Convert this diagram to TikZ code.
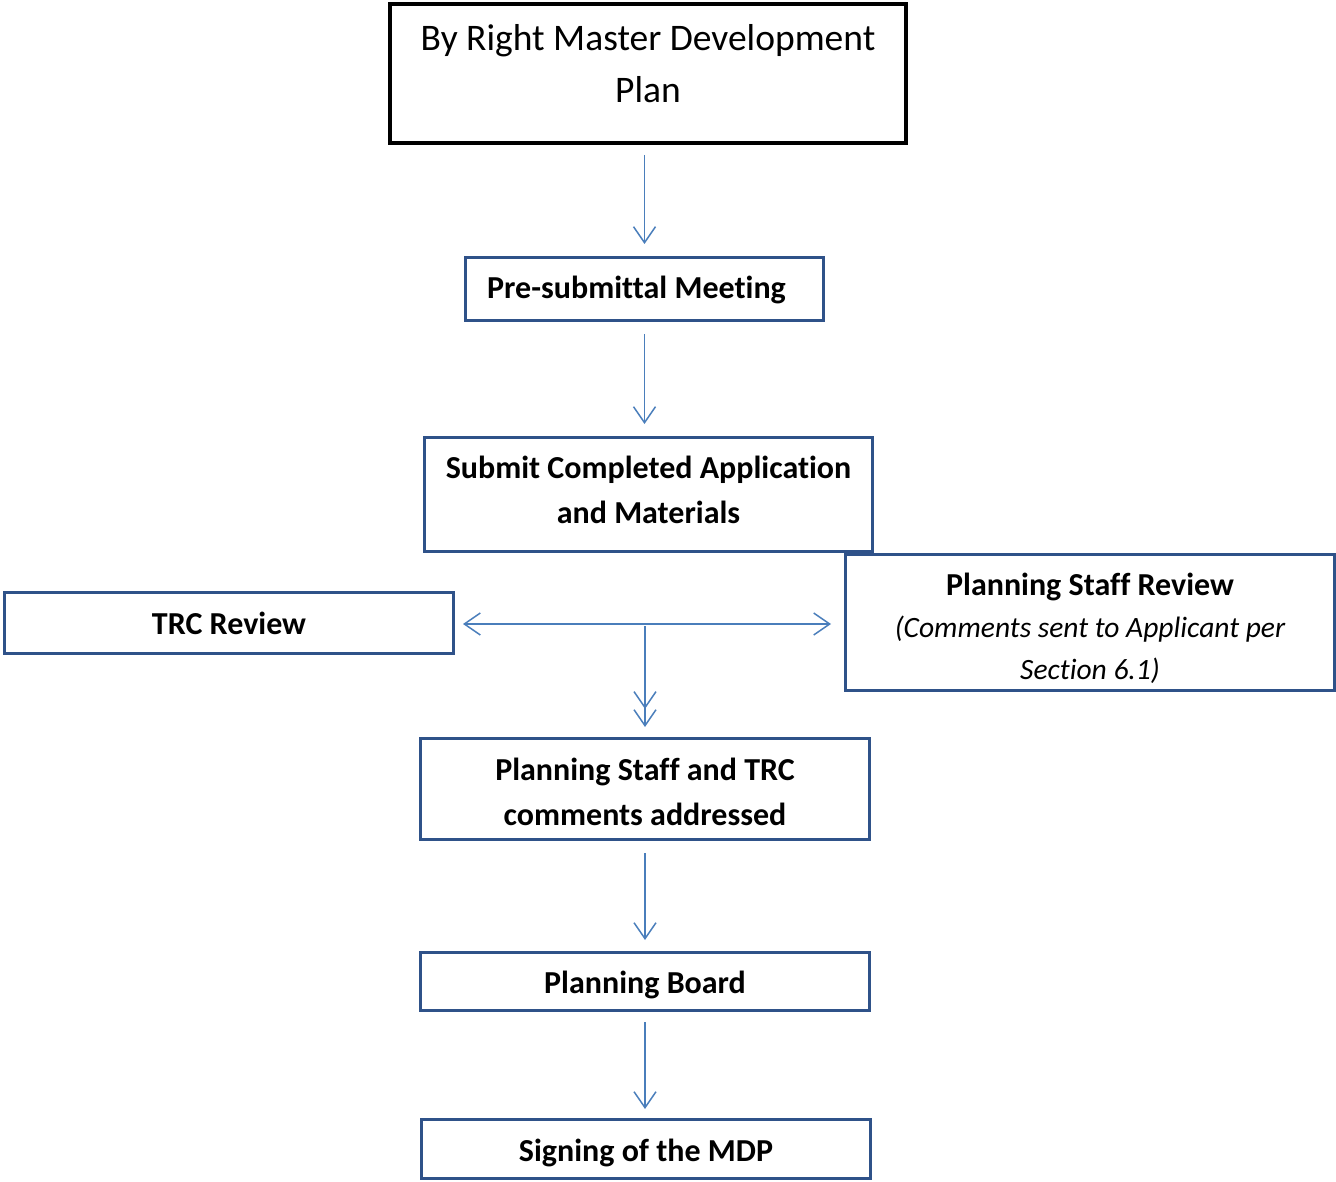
\documentclass[tikz,border=0pt]{standalone}
\usepackage{fontspec}
\setmainfont{Carlito}[Ligatures={NoCommon}]
\usetikzlibrary{arrows.meta}
\definecolor{boxblue}{HTML}{2F5289}
\definecolor{arrblue}{HTML}{4A7EBB}
\tikzset{
  box/.style={draw=boxblue, line width=3pt, rectangle, inner sep=0pt},
  lbl/.style={align=center, inner sep=0pt, font=\fontsize{32}{45}\selectfont\bfseries},
  topbox/.style={draw=black, line width=4pt, rectangle, align=center, inner sep=0pt,
    font=\fontsize{37.5}{52}\selectfont},
  arr/.style={draw=arrblue, line width=1.5pt, -{Straight Barb[length=16pt,width=22pt,line width=1.5pt]}},
  darr/.style={draw=arrblue, line width=1.5pt, -{Straight Barb[length=16pt,width=22pt,line width=1.5pt]Straight Barb[length=16pt,width=22pt,line width=1.5pt,sep=-1pt]}},
  harr/.style={draw=arrblue, line width=1.5pt, {Straight Barb[length=16pt,width=22pt,line width=1.5pt]}-{Straight Barb[length=16pt,width=22pt,line width=1.5pt]}}
}
\begin{document}
\begin{tikzpicture}[x=1pt,y=-1pt]
\useasboundingbox (0,0) rectangle (1336,1182);
\node[topbox, minimum width=516pt, minimum height=139pt, text depth=20pt] (top) at (648,73.5)
  {By Right Master Development\\Plan};
\node[box, minimum width=358pt, minimum height=63pt,
  label={[lbl, yshift=-1pt, xshift=-8pt]center:{Pre-submittal Meeting}}] (pre) at (644.5,289) {};
\node[box, minimum width=448pt, minimum height=114pt,
  label={[lbl, yshift=5pt]center:{Submit Completed Application\\and Materials}}] (sub) at (648.5,494.5) {};
\node[box, minimum width=449pt, minimum height=61pt,
  label={[lbl]center:{TRC Review}}] (trc) at (229,623) {};
\node[box, minimum width=489pt, minimum height=136pt,
  label={[lbl, yshift=-6pt, font=\fontsize{29.5}{42}\selectfont]center:{{\fontsize{32}{42}\selectfont\bfseries Planning Staff Review}\\\itshape (Comments sent to Applicant per\\\itshape Section 6.1)}}] (psr) at (1090,622.5) {};
\node[box, minimum width=449pt, minimum height=101pt,
  label={[lbl, yshift=-3pt]center:{Planning Staff and TRC\\comments addressed}}] (pstrc) at (645,789) {};
\node[box, minimum width=449pt, minimum height=58pt,
  label={[lbl, yshift=-3pt]center:{Planning Board}}] (pb) at (645,981.5) {};
\node[box, minimum width=449pt, minimum height=59pt,
  label={[lbl, yshift=-4pt]center:{Signing of the MDP}}] (sign) at (646,1149) {};
\coordinate (j) at (645,626);
\draw[arr, shorten <=10pt, shorten >=12pt] (pre.north |- top.south) -- (pre.north);
\draw[arr, shorten <=12pt, shorten >=12pt] (pre.south) -- (pre.south |- sub.north);
\draw[harr, shorten <=8pt, shorten >=13pt] ([yshift=-1pt]trc.east) -- ([yshift=-1pt]trc.east -| psr.west);
\draw[darr, shorten >=11pt] (j) -- (pstrc.north);
\draw[arr, shorten <=12pt, shorten >=11pt] (pstrc.south) -- (pb.north);
\draw[arr, shorten <=10pt, shorten >=9pt] (pb.south) -- (pb.south |- sign.north);
\end{tikzpicture}
\end{document}
